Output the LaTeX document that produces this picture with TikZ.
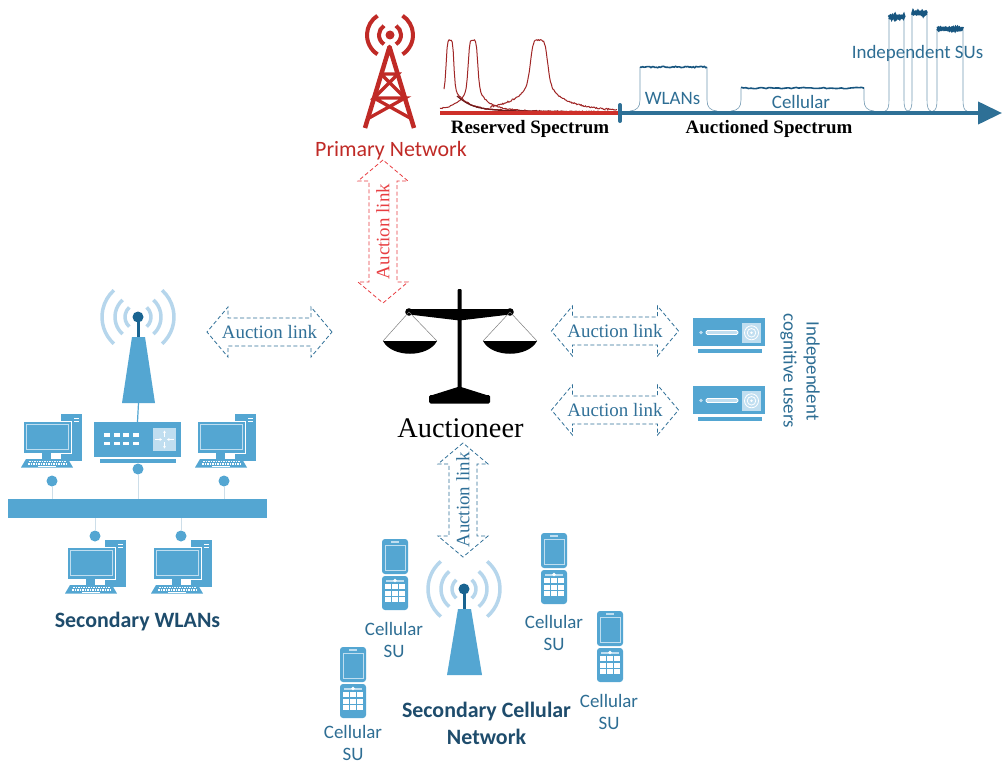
\documentclass[tikz,border=0pt]{standalone}
\usepackage{fontspec}
\setmainfont{Liberation Serif}
\newfontfamily\calibri{Carlito}
\usetikzlibrary{shapes.arrows,arrows.meta}

\definecolor{icon}{RGB}{84,166,210}
\definecolor{iconlt}{RGB}{182,214,236}
\definecolor{icondk}{RGB}{26,100,145}
\definecolor{panel}{RGB}{192,222,240}
\definecolor{txtblue}{RGB}{46,110,148}
\definecolor{headblue}{RGB}{30,76,108}
\definecolor{pnred}{RGB}{192,42,38}
\definecolor{linkred}{RGB}{232,62,66}
\definecolor{linkblue}{RGB}{48,112,152}
\definecolor{specred}{RGB}{160,38,38}
\definecolor{axisred}{RGB}{206,48,42}
\definecolor{axisblue}{RGB}{46,112,150}
\definecolor{specblue}{RGB}{24,86,128}
\definecolor{wirecol}{RGB}{205,222,233}

\tikzset{
  auclink/.style={double arrow, draw=#1, text=#1, dash pattern=on 4bp off 2.5bp,
    line width=0.8bp, double arrow head extend=11bp, double arrow tip angle=100,
    inner ysep=7bp, inner xsep=-12bp, font=\fontsize{19}{19}\selectfont},
  sulabel/.style={font=\calibri\fontsize{19}{22}\selectfont, text=txtblue, align=center, anchor=base},
  heading/.style={font=\calibri\bfseries\fontsize{22}{27}\selectfont, text=headblue, align=center, anchor=base},
  specname/.style={font=\bfseries\fontsize{19}{19}\selectfont, anchor=base},
  bandname/.style={font=\calibri\fontsize{19}{19}\selectfont, text=txtblue, anchor=base},
  joint/.style={circle, fill=icon, inner sep=0pt, minimum size=11bp},
  wire/.style={draw=wirecol, line width=1bp},
  wave/.style={draw=iconlt, line width=3.5bp},
}

% desktop pc, #1,#2 = top left corner of the monitor
\newcommand{\desktop}[2]{%
  \begin{scope}[shift={(#1,#2)}]
    \fill[icon] (38,-7) rectangle (59,40);
    \draw[white, line width=0.9bp] (51,-3) -- (56,-3) (51,0) -- (56,0);
    \filldraw[fill=icon, draw=white, line width=1bp] (0,0) rectangle (48,32);
    \draw[panel, line width=0.8bp] (3,3) rectangle (45,28);
    \fill[icon] (19,32) rectangle (28,38);
    \fill[icon] (3,38) -- (45,38) -- (50,46.5) -- (-2,46.5) -- cycle;
    \draw[white, line width=1.2bp, dash pattern=on 1.6bp off 0.9bp] (6,40.5) -- (43,40.5) (5,43) -- (45,43);
    \draw[white, line width=1.2bp] (15,45.3) -- (33,45.3);
  \end{scope}}

% flip phone, #1,#2 = top left corner
\newcommand{\flipphone}[2]{%
  \begin{scope}[shift={(#1,#2)}]
    \fill[icon, rounded corners=3bp] (0,0) rectangle (26,35);
    \draw[panel, line width=0.8bp] (3,6) rectangle (23,31);
    \draw[panel, line width=1.2bp] (9,3) -- (17,3);
    \fill[icon, rounded corners=3bp] (0,37) rectangle (26,71);
    \draw[panel, line width=2bp] (4,41.5) -- (22,41.5);
    \fill[white] (13,41.5) circle (1.8);
    \foreach \i in {0,1,2}
      \foreach \j in {0,1,2}
        \fill[white] (3+\i*7.1,45+\j*6.5) rectangle +(5.8,5.3);
  \end{scope}}

% set-top box
\newcommand{\settop}[2]{%
  \begin{scope}[shift={(#1,#2)}]
    \fill[icon] (0,0) rectangle (72,28);
    \fill[icon] (5,31) rectangle (69,35);
    \fill[panel] (8,14.5) circle (1.8);
    \filldraw[fill=panel, draw=white, line width=0.8bp, rounded corners=1.5bp] (13,12.5) rectangle (45,16.5);
    \fill[panel] (49,5) rectangle (68,24.5);
    \draw[white, line width=0.8bp] (58.5,14.8) circle (7) circle (4.3);
    \fill[white] (58.5,14.8) circle (1.4);
  \end{scope}}

% band in the spectrum: [top width]{x1}{x2}{top}{flare}
\newcommand{\band}[5][1.6bp]{%
  \draw[specblue!60, line width=0.6bp] (#2-#5,111) .. controls (#2-0.3*#5,110.5) and (#2,107) .. (#2,100) -- (#2,#4);
  \draw[specblue!60, line width=0.6bp] (#3,#4) -- (#3,100) .. controls (#3,107) and (#3+0.3*#5,110.5) .. (#3+#5,111);
  \draw[specblue, line width=#1] plot[domain=#2:#3, samples=50] (\x,{#4+0.7*rand});}

\begin{document}
\begin{tikzpicture}[x=1bp, y=-1bp]
  \pgfmathsetseed{7}
  \fill[white] (0,0) rectangle (1003,765);
  \useasboundingbox (0,0) rectangle (1003,765);

  % primary network
  \fill[pnred] (390,35) circle (4.5);
  \foreach \r in {11,23} {
    \draw[pnred, line width=4bp] (390,35) ++(57:\r) arc (57:-57:\r);
    \draw[pnred, line width=4bp] (390,35) ++(123:\r) arc (123:237:\r);
  }
  \draw[pnred, line width=4.5bp, line join=round] (365,128) -- (389.5,47) -- (414,128);
  \draw[pnred, line width=3.3bp]
    (381,74) -- (398,74) -- (374,98) -- (405,98) -- (369,118)
    (381,74) -- (405,98)
    (374,98) -- (410,118);
  \node[font=\calibri\fontsize{22}{22}\selectfont, text=pnred, anchor=base] (pnet) at (391,156) {Primary Network};

  % reserved spectrum
  \draw[specred, line width=1bp] plot[domain=444:617, samples=170]
    (\x,{112-50/(1+(min(abs(\x-450)/4,4))^6)-22/(1+((\x-450)/15)^2)+0.6*rand});
  \draw[specred, line width=1bp] plot[domain=440:617, samples=170]
    (\x,{112-50/(1+(min(abs(\x-473)/5,4))^6)-22/(1+((\x-473)/14)^2)+0.6*rand});
  \draw[specred, line width=1bp] plot[domain=490:617, samples=150]
    (\x,{112-45/(1+(min(abs(\x-539)/9,4))^6)-27/(1+((\x-539)/24)^2)+0.7*rand});
  \draw[specred!70!black, line width=1.3bp] plot[domain=457:617, samples=60]
    (\x,{112-19/(1+((\x-450)/16)^2)});
  \draw[axisred, line width=4bp] (440,113) -- (619,113);

  % auctioned spectrum
  \band{640}{707}{67}{10}
  \band{741}{864}{88}{10}
  \band[3.5bp]{889}{904}{17}{4}
  \band[3.5bp]{912}{927}{13}{4}
  \band[3.5bp]{937}{963}{29}{4}
  \draw[axisblue, line width=4bp, -{Triangle[length=24bp, width=22bp]}] (620,113) -- (1002,113);
  \draw[axisblue, line width=4bp, line cap=round] (620,105) -- (620,121);

  \node[specname] (resv) at (530,133) {Reserved Spectrum};
  \node[specname] (auct) at (769,133) {Auctioned Spectrum};
  \node[bandname] (bwlan) at (672.5,104) {WLANs};
  \node[bandname] (bcell) at (801,108) {Cellular};
  \node[bandname] (bsus) at (917.5,59) {Independent SUs};

  % auctioneer
  \fill[black, rounded corners=1bp] (457.5,289) rectangle (461.5,390);
  \fill[black] (409,309) -- (510,309) -- (510,314.5) -- (459.5,320.5) -- (409,314.5) -- cycle;
  \fill[black] (409,312) circle (3.8) (510,312) circle (3.8);
  \draw[gray, line width=0.5bp] (383,341) -- (409,312) -- (437,341) (483,341) -- (510,312) -- (537,341);
  \fill[black] (383,341) -- (437,341) .. controls (428,358) and (392,358) .. cycle;
  \fill[black] (483,341) -- (537,341) .. controls (528,358) and (492,358) .. cycle;
  \fill[black] (459.5,386.5) -- (488,395.5) -- (431,395.5) -- cycle;
  \fill[black, rounded corners=1.5bp] (429,395) rectangle (490,403.5);
  \node[font=\fontsize{28.5}{28.5}\selectfont, anchor=base] (auctioneer) at (460.5,437.5) {Auctioneer};

  % auction links
  \node[auclink=linkred, rotate=90, minimum height=143bp] (lkpn) at (383,231.5) {Auction link};
  \node[auclink=linkblue, minimum height=125bp] (lkwl) at (269.5,332) {Auction link};
  \node[auclink=linkblue, minimum height=127bp] (lkua) at (615,331) {Auction link};
  \node[auclink=linkblue, minimum height=127bp] (lkub) at (615,410) {Auction link};
  \node[auclink=linkblue, rotate=90, minimum height=114bp] (lkcl) at (463,500) {Auction link};

  % independent cognitive users
  \settop{693}{318}
  \settop{693}{386}
  \node[font=\calibri\fontsize{19}{23}\selectfont, text=txtblue, align=center, rotate=-90] (indep) at (800,371) {Independent\\cognitive users};

  % secondary wlans
  \foreach \r in {13,23,36} {
    \draw[wave] (138,317) ++(48:\r) arc (48:-48:\r);
    \draw[wave] (138,317) ++(132:\r) arc (132:228:\r);
  }
  \draw[icondk, line width=3bp] (138,317) -- (138,338);
  \fill[icondk] (138,317) circle (5.5);
  \fill[icon] (132,337) -- (145,337) -- (155,403) -- (122,403) -- cycle;
  \coordinate (wlbase) at (138.5,403);

  \node[fill=icon, minimum width=87bp, minimum height=35bp, inner sep=0pt] (switch) at (137.5,439.5) {};
  \fill[icon] (100,459) rectangle (176,462.5);
  \foreach \i in {0,...,3}
    \foreach \j in {0,1}
      \fill[white] (104+\i*9.5,433+\j*8.5) rectangle +(6,3.5);
  \fill[panel] (153,428) rectangle (176,451);
  \draw[white, line width=0.8bp, -{Stealth[length=2.5bp, width=3bp]}]
    (164.5,437) -- (164.5,430.5);
  \draw[white, line width=0.8bp, -{Stealth[length=2.5bp, width=3bp]}]
    (164.5,442) -- (164.5,448.5);
  \draw[white, line width=0.8bp, -{Stealth[length=2.5bp, width=3bp]}]
    (155,439.5) -- (162,439.5);
  \draw[white, line width=0.8bp, -{Stealth[length=2.5bp, width=3bp]}]
    (174,439.5) -- (167,439.5);
  \draw[icon, line width=1.2bp] (wlbase) -- (switch.north);

  \desktop{23}{421}
  \desktop{197}{421}
  \desktop{67}{547}
  \desktop{153}{547}

  \node[fill=icon, minimum width=259bp, minimum height=19bp, inner sep=0pt] (bus) at (137.5,508.5) {};
  \node[joint] (jsw) at (138,469) {};
  \node[joint] (jpc1) at (52,481) {};
  \node[joint] (jpc2) at (224,481) {};
  \node[joint] (jpc3) at (95,536) {};
  \node[joint] (jpc4) at (181,536) {};
  \draw[wire] (jsw) -- (jsw |- bus.north);
  \draw[wire] (jpc1) -- (jpc1 |- bus.north);
  \draw[wire] (jpc2) -- (jpc2 |- bus.north);
  \draw[wire] (jpc3) -- (jpc3 |- bus.south);
  \draw[wire] (jpc4) -- (jpc4 |- bus.south);

  \node[heading] (hwlan) at (137.5,627) {Secondary WLANs};

  % secondary cellular network
  \foreach \r in {12,23,36} {
    \draw[wave] (464,589) ++(50:\r) arc (50:-50:\r);
    \draw[wave] (464,589) ++(130:\r) arc (130:230:\r);
  }
  \draw[icondk, line width=3bp] (464,589) -- (464,610);
  \fill[icondk] (464,589) circle (5.5);
  \fill[icon] (458,609) -- (471,609) -- (482,675) -- (447,675) -- cycle;

  \flipphone{382}{539}
  \flipphone{541}{533}
  \flipphone{597}{611}
  \flipphone{340}{647}
  % base anchor sits on the last line
  \node[sulabel] (lsu1) at (394,657) {Cellular\\SU};
  \node[sulabel] (lsu2) at (554,650) {Cellular\\SU};
  \node[sulabel] (lsu3) at (609,729) {Cellular\\SU};
  \node[sulabel] (lsu4) at (353,760) {Cellular\\SU};

  \node[heading] (hcell) at (486.5,744) {Secondary Cellular\\Network};

\end{tikzpicture}
\end{document}
